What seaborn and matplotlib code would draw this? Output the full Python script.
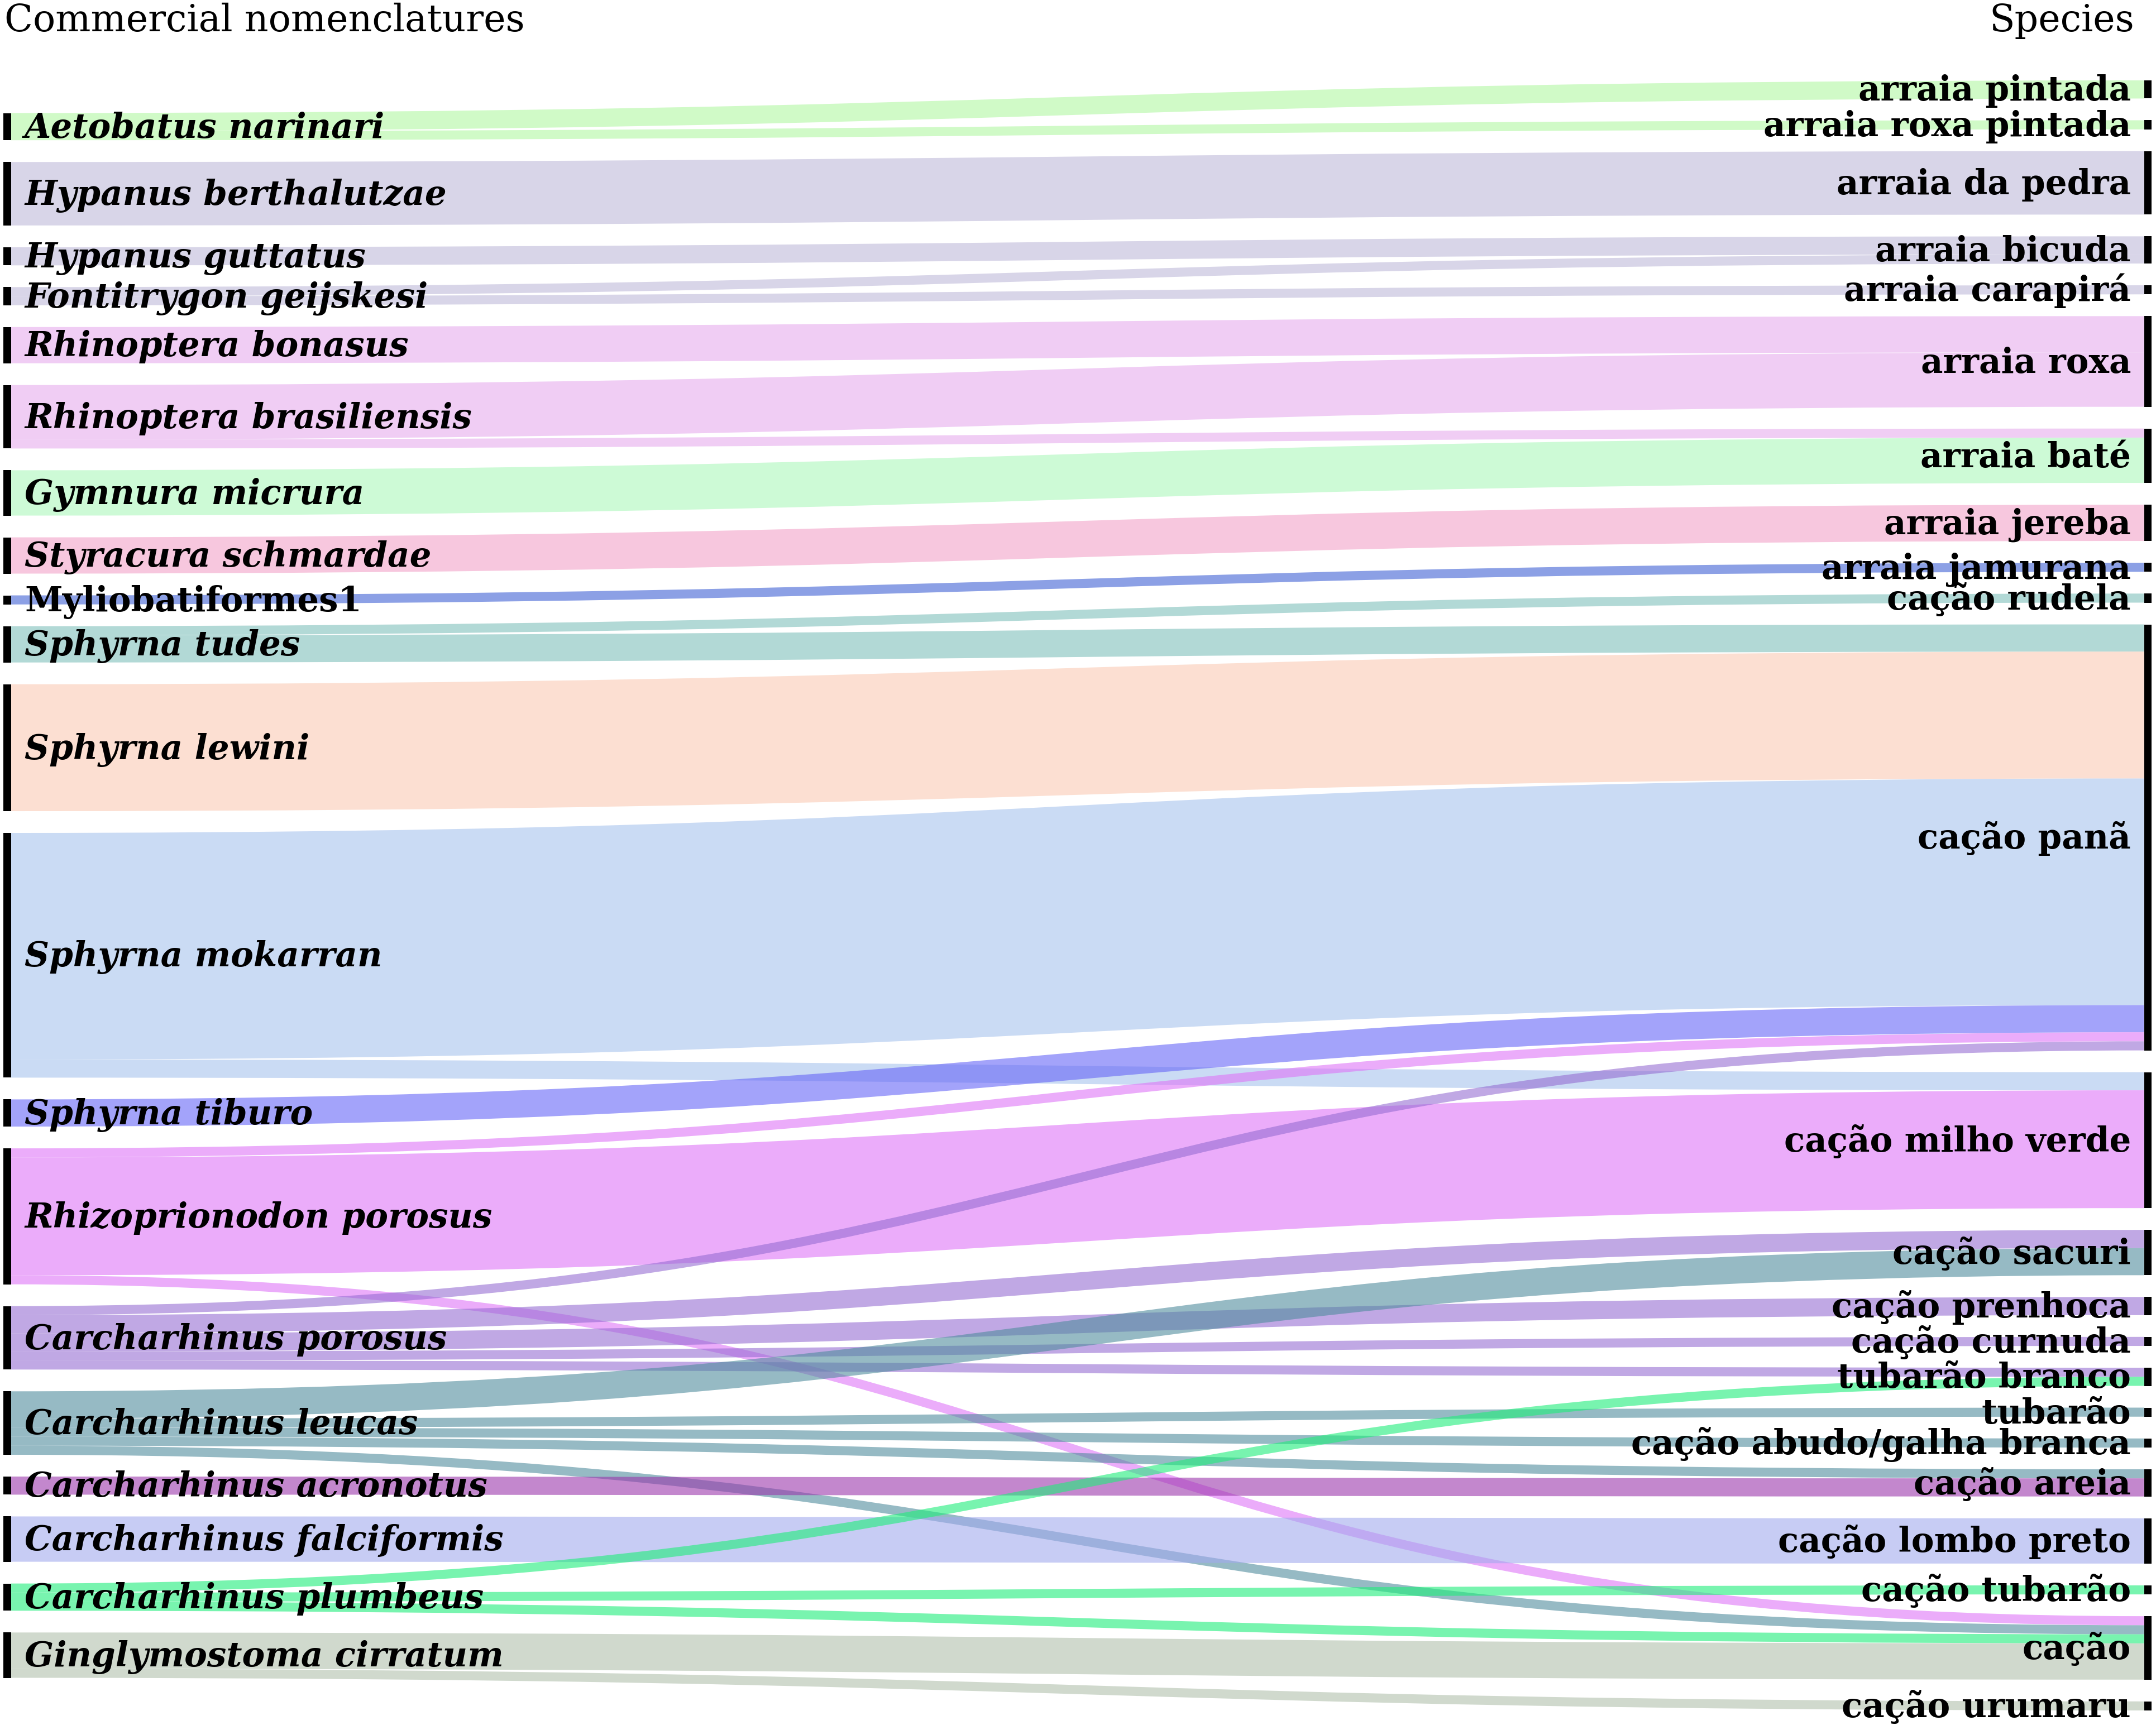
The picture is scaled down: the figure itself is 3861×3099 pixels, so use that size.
import numpy as np
import matplotlib
matplotlib.use("Agg")
import matplotlib.pyplot as plt
import seaborn as sns
from matplotlib.path import Path
from matplotlib.patches import PathPatch, Rectangle
from matplotlib.colors import to_rgb

# ---------------- data ----------------
species = ["Aetobatus narinari", "Hypanus berthalutzae", "Hypanus guttatus",
           "Fontitrygon geijskesi", "Rhinoptera bonasus", "Rhinoptera brasiliensis",
           "Gymnura micrura", "Styracura schmardae", "Myliobatiformes1", "Sphyrna tudes",
           "Sphyrna lewini", "Sphyrna mokarran", "Sphyrna tiburo", "Rhizoprionodon porosus",
           "Carcharhinus porosus", "Carcharhinus leucas", "Carcharhinus acronotus",
           "Carcharhinus falciformis", "Carcharhinus plumbeus", "Ginglymostoma cirratum"]
species_italic = [True] * 8 + [False] + [True] * 11

commercial = ["arraia pintada", "arraia roxa pintada", "arraia da pedra", "arraia bicuda",
              "arraia carapirá", "arraia roxa", "arraia baté", "arraia jereba",
              "arraia jamurana", "cação rudela", "cação panã", "cação milho verde",
              "cação sacuri", "cação prenhoca", "cação curnuda", "tubarão branco", "tubarão",
              "cação abudo/galha branca", "cação areia", "cação lombo preto",
              "cação tubarão", "cação", "cação urumaru"]

link_species = [
    "Aetobatus narinari", "Aetobatus narinari", "Hypanus berthalutzae", "Hypanus guttatus",
    "Fontitrygon geijskesi", "Fontitrygon geijskesi", "Rhinoptera bonasus",
    "Rhinoptera brasiliensis", "Rhinoptera brasiliensis", "Gymnura micrura",
    "Styracura schmardae", "Myliobatiformes1", "Sphyrna tudes", "Sphyrna tudes",
    "Sphyrna lewini", "Sphyrna mokarran", "Sphyrna mokarran", "Sphyrna tiburo",
    "Rhizoprionodon porosus", "Rhizoprionodon porosus", "Rhizoprionodon porosus",
    "Carcharhinus porosus", "Carcharhinus porosus", "Carcharhinus porosus",
    "Carcharhinus porosus", "Carcharhinus porosus",
    "Carcharhinus leucas", "Carcharhinus leucas", "Carcharhinus leucas",
    "Carcharhinus leucas", "Carcharhinus leucas",
    "Carcharhinus acronotus", "Carcharhinus falciformis",
    "Carcharhinus plumbeus", "Carcharhinus plumbeus", "Carcharhinus plumbeus",
    "Ginglymostoma cirratum", "Ginglymostoma cirratum"]
link_commercial = [
    "arraia pintada", "arraia roxa pintada", "arraia da pedra", "arraia bicuda",
    "arraia bicuda", "arraia carapirá", "arraia roxa",
    "arraia roxa", "arraia baté", "arraia baté",
    "arraia jereba", "arraia jamurana", "cação rudela", "cação panã",
    "cação panã", "cação panã", "cação milho verde", "cação panã",
    "cação panã", "cação milho verde", "cação",
    "cação panã", "cação sacuri", "cação prenhoca", "cação curnuda", "tubarão branco",
    "cação sacuri", "tubarão", "cação abudo/galha branca", "cação areia", "cação",
    "cação areia", "cação lombo preto",
    "tubarão branco", "cação tubarão", "cação",
    "cação", "cação urumaru"]
link_count = [2, 1, 7, 2, 1, 1, 4, 6, 1, 5, 4, 1, 1, 3, 14, 25, 2, 3, 1, 13, 1,
              1, 2, 2, 1, 1, 3, 1, 1, 1, 1, 2, 5, 1, 1, 1, 4, 1]

# link colour (as seen on white) for each species
species_palette = ["#D0FAC8", "#D8D5E8", "#D8D5E8", "#D8D5E8", "#F0CDF5", "#F0CDF5",
                   "#CDFAD7", "#F8C8DE", "#8CA0E6", "#B2D9D6", "#FCE0D2", "#CBDBF5",
                   "#A3A3FA", "#ECACFA", "#C0A8E4", "#96BAC4", "#C387CD", "#C8CCF5",
                   "#78F5AF", "#D0DACE"]

# ---------------- figure ----------------
W, H, DPI = 3861, 3099, 100
sns.set_theme(style="white")
plt.rcParams["font.family"] = ["DejaVu Serif", "DejaVu Sans"]
plt.rcParams["text.color"] = "black"

fig = plt.figure(figsize=(W / DPI, H / DPI), dpi=DPI)
ax = fig.add_axes([0, 0, 1, 1])
ax.set_xlim(0, W)
ax.set_ylim(H, 0)
ax.axis("off")

# ---------------- sankey layout: stacked strata, columns centred ----------------
src = np.array([species.index(s) for s in link_species])
tgt = np.array([commercial.index(c) for c in link_commercial])
val = np.array(link_count, dtype=float)
nL, nR = len(species), len(commercial)

Y_TOP, Y_BOT, PAD = 144.0, 3064.0, 39.0
X_LEFT, X_RIGHT, NODE_W = 6.0, 3853.0, 13.5
SPAN = Y_BOT - Y_TOP

vL = np.bincount(src, weights=val, minlength=nL)
vR = np.bincount(tgt, weights=val, minlength=nR)
ky = min((SPAN - (nL - 1) * PAD) / vL.sum(), (SPAN - (nR - 1) * PAD) / vR.sum())
hL, hR = vL * ky, vR * ky


def stack(h):
    y = np.concatenate([[0.0], np.cumsum(h[:-1] + PAD)])
    extent = h.sum() + PAD * (len(h) - 1)
    return y + Y_TOP + (SPAN - extent) / 2


yL = stack(hL)
yR = stack(hR)

# link offsets inside nodes
w = val * ky
sy = np.zeros(len(val))
ty = np.zeros(len(val))
for i in range(nL):
    acc = 0.0
    for k in sorted([k for k in range(len(val)) if src[k] == i], key=lambda k: tgt[k]):
        sy[k] = acc
        acc += w[k]
for j in range(nR):
    acc = 0.0
    for k in sorted([k for k in range(len(val)) if tgt[k] == j], key=lambda k: src[k]):
        ty[k] = acc
        acc += w[k]

# ---------------- links ----------------
A = 0.6
x0 = X_LEFT + NODE_W
x1 = X_RIGHT - NODE_W
xm = (x0 + x1) / 2
px_to_pt = 72.0 / DPI
for k in range(len(val)):
    seen = np.array(to_rgb(species_palette[src[k]]))
    base = np.clip(1 - (1 - seen) / A, 0, 1)
    ya = yL[src[k]] + sy[k] + w[k] / 2
    yb = yR[tgt[k]] + ty[k] + w[k] / 2
    path = Path([(x0, ya), (xm, ya), (xm, yb), (x1, yb)],
                [Path.MOVETO, Path.CURVE4, Path.CURVE4, Path.CURVE4])
    ax.add_patch(PathPatch(path, fill=False, edgecolor=(*base, A),
                           lw=w[k] * px_to_pt, capstyle="butt", zorder=1))

# ---------------- nodes ----------------
for i in range(nL):
    ax.add_patch(Rectangle((X_LEFT, yL[i]), NODE_W, hL[i], color="black", lw=0, zorder=3))
for j in range(nR):
    ax.add_patch(Rectangle((X_RIGHT - NODE_W, yR[j]), NODE_W, hR[j], color="black", lw=0, zorder=3))

# ---------------- labels ----------------
LBL = 44
em = LBL / px_to_pt
for i, name in enumerate(species):
    ax.text(44, yL[i] + hL[i] / 2 + 0.33 * em, name, ha="left", va="baseline",
            fontsize=LBL, fontweight="bold", color="black",
            fontstyle="italic" if species_italic[i] else "normal", zorder=4)
for j, name in enumerate(commercial):
    ax.text(3816, yR[j] + hR[j] / 2 + 0.33 * em, name, ha="right", va="baseline",
            fontsize=LBL, fontweight="bold", color="black", zorder=4)

ax.text(8, 56, "Commercial nomenclatures", ha="left", va="baseline", fontsize=48,
        color="black")
ax.text(3822, 56, "Species", ha="right", va="baseline", fontsize=48, color="black")

fig.savefig("out.png", dpi=DPI, facecolor="white")
